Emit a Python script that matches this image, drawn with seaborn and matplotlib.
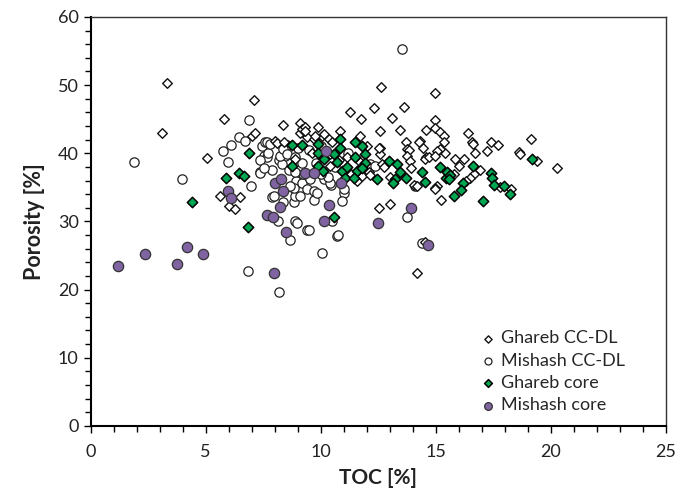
import numpy as np
import pandas as pd
import matplotlib
matplotlib.use("Agg")
import matplotlib.pyplot as plt
import seaborn as sns
from matplotlib.ticker import MultipleLocator

# ---------------- data ----------------
ghareb_ccdl_toc = [3.33, 3.12, 7.12, 5.79, 8.38, 5.07, 7.01, 7.15, 8.02, 8.10, 8.41, 5.63, 6.50, 6.03, 6.28,
                   9.08, 9.11, 8.89, 12.63, 14.95, 11.28, 12.30, 13.60, 11.76, 13.10, 9.18, 9.88, 10.85, 12.59,
                   13.43, 14.57, 14.95, 14.98, 15.17, 15.34, 15.34, 9.40, 9.69, 10.05, 11.72, 12.01, 12.59, 13.72,
                   13.75, 14.30, 14.43, 14.59, 12.56, 11.72, 11.79, 12.66, 12.73, 11.14, 10.41, 10.41, 11.57, 12.08,
                   14.03, 14.18, 15.05, 14.25, 13.82, 14.54, 14.69, 12.54, 10.15, 9.33, 9.33, 9.76, 10.34, 10.49,
                   12.51, 12.99, 13.75, 13.89, 15.24, 14.95, 14.18, 14.51, 11.79, 12.15, 16.40, 16.57, 16.62, 17.41,
                   17.70, 17.23, 16.69, 19.15, 18.60, 18.67, 19.40, 20.27, 15.41, 15.20, 15.05, 14.98, 15.85, 16.21,
                   15.99, 16.90, 16.64, 16.50, 17.80, 18.28, 14.98, 9.60, 10.80, 11.30, 13.00, 13.90, 15.80, 16.30]
ghareb_ccdl_por = [50.3, 42.9, 47.8, 45.0, 44.2, 39.3, 42.5, 42.9, 41.8, 41.5, 41.6, 33.7, 33.6, 32.2, 31.8,
                   44.4, 43.0, 39.1, 49.7, 48.8, 46.1, 46.6, 46.8, 45.0, 45.1, 43.6, 43.8, 43.3, 43.3,
                   43.4, 43.4, 44.9, 43.7, 43.1, 42.5, 41.6, 42.4, 42.1, 42.5, 42.6, 41.1, 40.8, 41.6,
                   40.6, 41.8, 40.8, 39.4, 39.9, 38.7, 38.2, 38.4, 38.0, 39.4, 39.9, 38.1, 35.9, 37.2,
                   35.4, 35.2, 35.2, 41.7, 40.5, 39.1, 39.4, 40.8, 42.8, 43.9, 43.3, 42.5, 42.1, 41.6,
                   32.0, 32.6, 39.6, 38.9, 33.2, 34.9, 22.5, 27.0, 36.7, 36.8, 43.0, 41.6, 41.3, 41.6,
                   41.2, 40.3, 40.1, 42.1, 40.2, 39.9, 38.9, 37.8, 40.1, 40.6, 40.3, 39.6, 39.1, 39.2,
                   38.1, 37.6, 36.9, 36.3, 35.0, 34.7, 34.8, 40.0, 39.0, 37.0, 36.5, 37.8, 37.0, 36.0]

mishash_ccdl_toc = [1.89, 6.90, 6.43, 6.10, 5.77, 5.97, 6.72, 7.44, 7.59, 7.52, 7.66, 7.73, 7.37, 8.17, 8.46,
                    8.31, 7.37, 7.88, 8.60, 3.97, 6.98, 7.34, 7.90, 8.75, 8.82, 8.14, 8.67, 6.85, 8.17, 8.86,
                    7.54, 8.24, 8.53, 7.95, 8.38, 8.93, 9.04, 9.18, 8.96, 8.89, 7.66, 7.80, 9.40, 9.69, 9.69,
                    10.44, 10.99, 10.92, 10.70, 9.40, 13.75, 14.40, 12.15, 12.37, 14.11, 9.47, 10.05, 10.75,
                    11.03, 9.83, 9.11, 8.82, 10.49, 13.53, 8.38, 8.53, 8.89, 9.25, 9.54, 10.12, 10.41, 8.67,
                    9.50, 10.00, 9.80, 10.60, 10.30, 11.20, 10.00, 9.20, 9.00, 8.90]
mishash_ccdl_por = [38.7, 44.9, 42.4, 41.2, 40.3, 38.7, 41.8, 41.1, 41.7, 39.6, 39.4, 40.1, 39.0, 39.0, 39.6,
                    38.4, 37.2, 37.6, 37.6, 36.2, 35.2, 37.1, 33.6, 35.0, 32.9, 30.0, 27.3, 22.7, 19.6, 30.0,
                    37.8, 39.6, 41.2, 33.8, 32.8, 35.9, 34.7, 35.7, 29.8, 33.7, 41.6, 41.3, 34.7, 34.5, 33.2,
                    35.4, 34.2, 33.0, 27.9, 28.8, 30.6, 26.8, 38.4, 38.1, 35.2, 28.8, 25.4, 28.0,
                    34.7, 34.2, 33.8, 34.9, 30.0, 55.3, 40.6, 39.9, 39.4, 36.9, 36.2, 36.2, 35.7, 35.2,
                    40.5, 41.0, 38.5, 38.0, 36.5, 40.0, 37.0, 38.5, 40.8, 37.3]

ghareb_core_toc = [5.90, 6.46, 6.67, 4.41, 6.85, 6.90, 8.77, 9.18, 8.75, 9.86, 9.90, 10.12, 10.56, 10.85, 10.85,
                   10.70, 9.90, 10.10, 10.92, 11.07, 11.14, 11.50, 11.50, 11.79, 11.93, 11.93, 11.57, 11.43,
                   11.79, 12.95, 13.31, 13.46, 13.24, 12.44, 13.14, 13.72, 14.40, 14.54, 10.56, 15.20, 15.44,
                   15.49, 15.63, 15.59, 16.60, 16.17, 16.07, 15.80, 17.03, 17.41, 17.44, 17.51, 17.98, 18.20, 19.18]
ghareb_core_por = [36.3, 37.1, 36.6, 32.8, 29.2, 40.0, 41.2, 41.2, 38.2, 41.4, 40.1, 39.1, 39.9, 42.1, 40.7,
                   38.7, 38.1, 37.4, 37.4, 36.3, 38.0, 39.4, 41.6, 41.1, 39.9, 38.6, 37.4, 36.4,
                   37.9, 38.9, 38.4, 37.2, 36.2, 36.2, 35.6, 36.3, 37.2, 35.8, 30.6, 38.0, 36.3,
                   37.3, 36.8, 36.2, 38.2, 35.6, 34.6, 33.7, 33.0, 37.1, 36.3, 35.4, 35.2, 34.0, 39.1]

mishash_core_toc = [1.21, 2.36, 3.77, 4.20, 4.90, 5.98, 6.11, 8.03, 8.28, 8.34, 8.24, 7.67, 7.92, 8.47, 7.99,
                    9.33, 9.69, 10.89, 10.34, 10.12, 12.49, 13.92, 14.66, 10.23]
mishash_core_por = [23.5, 25.2, 23.8, 26.3, 25.2, 34.4, 33.4, 35.7, 36.2, 34.5, 32.1, 30.9, 30.6, 28.5, 22.5,
                    37.1, 37.1, 35.7, 32.4, 30.1, 29.7, 31.9, 26.6, 40.4]

x_ticks = [0, 5, 10, 15, 20, 25]
y_ticks = [0, 10, 20, 30, 40, 50, 60]

GREEN = "#00a651"
PURPLE = "#8064a2"

# ---------------- style ----------------
sns.set_theme(style="white")
plt.rcParams["font.family"] = ["Lato", "DejaVu Sans"]

fig = plt.figure(figsize=(6.91, 4.97), dpi=100)
ax = fig.add_axes([0.131, 0.143, 0.833, 0.823])

sns.scatterplot(x=mishash_ccdl_toc, y=mishash_ccdl_por, ax=ax, marker="o", s=45,
                facecolor="white", edgecolor="#222222", linewidth=0.9, label="Mishash CC-DL", zorder=2)
sns.scatterplot(x=ghareb_ccdl_toc, y=ghareb_ccdl_por, ax=ax, marker="D", s=24,
                facecolor="white", edgecolor="#111111", linewidth=1.0, label="Ghareb CC-DL", zorder=3)
sns.scatterplot(x=ghareb_core_toc, y=ghareb_core_por, ax=ax, marker="D", s=28,
                facecolor=GREEN, edgecolor="black", linewidth=1.1, label="Ghareb core", zorder=4)
sns.scatterplot(x=mishash_core_toc, y=mishash_core_por, ax=ax, marker="o", s=55,
                facecolor=PURPLE, edgecolor="#333333", linewidth=0.9, label="Mishash core", zorder=5)

ax.set_xlim(0, 25)
ax.set_ylim(0, 60)
ax.set_xticks(x_ticks)
ax.set_yticks(y_ticks)
ax.set_xticklabels([str(t) for t in x_ticks])
ax.set_yticklabels([str(t) for t in y_ticks])
ax.xaxis.set_minor_locator(MultipleLocator(1))
ax.yaxis.set_minor_locator(MultipleLocator(2))
ax.tick_params(axis="both", which="major", direction="out", length=5, width=1.0,
               color="black", labelsize=13, labelcolor="#222222", bottom=True, left=True)
ax.tick_params(axis="both", which="minor", direction="out", length=4, width=1.0,
               color="black", bottom=True, left=True)
ax.tick_params(axis="x", which="major", pad=8)

for side in ["left", "bottom", "top", "right"]:
    ax.spines[side].set_visible(True)
    ax.spines[side].set_color("black" if side in ("left", "bottom") else "#333333")
    ax.spines[side].set_linewidth(1.5 if side in ("left", "bottom") else 1.0)

ax.set_xlabel("TOC [%]", fontsize=15, fontweight="bold", color="#222222", labelpad=6)
ax.set_ylabel("Porosity [%]", fontsize=15.5, fontweight="bold", color="#222222", labelpad=9)
ax.grid(False)

handles, labels = ax.get_legend_handles_labels()
order = ["Ghareb CC-DL", "Mishash CC-DL", "Ghareb core", "Mishash core"]
hmap = dict(zip(labels, handles))
ax.legend([hmap[k] for k in order], order, loc="lower left", bbox_to_anchor=(0.66, 0.0),
          frameon=False, fontsize=13, markerscale=0.75, handlelength=0.6, handletextpad=0.4,
          labelspacing=0.35, borderaxespad=0.3)

fig.savefig("out.png", dpi=100)
